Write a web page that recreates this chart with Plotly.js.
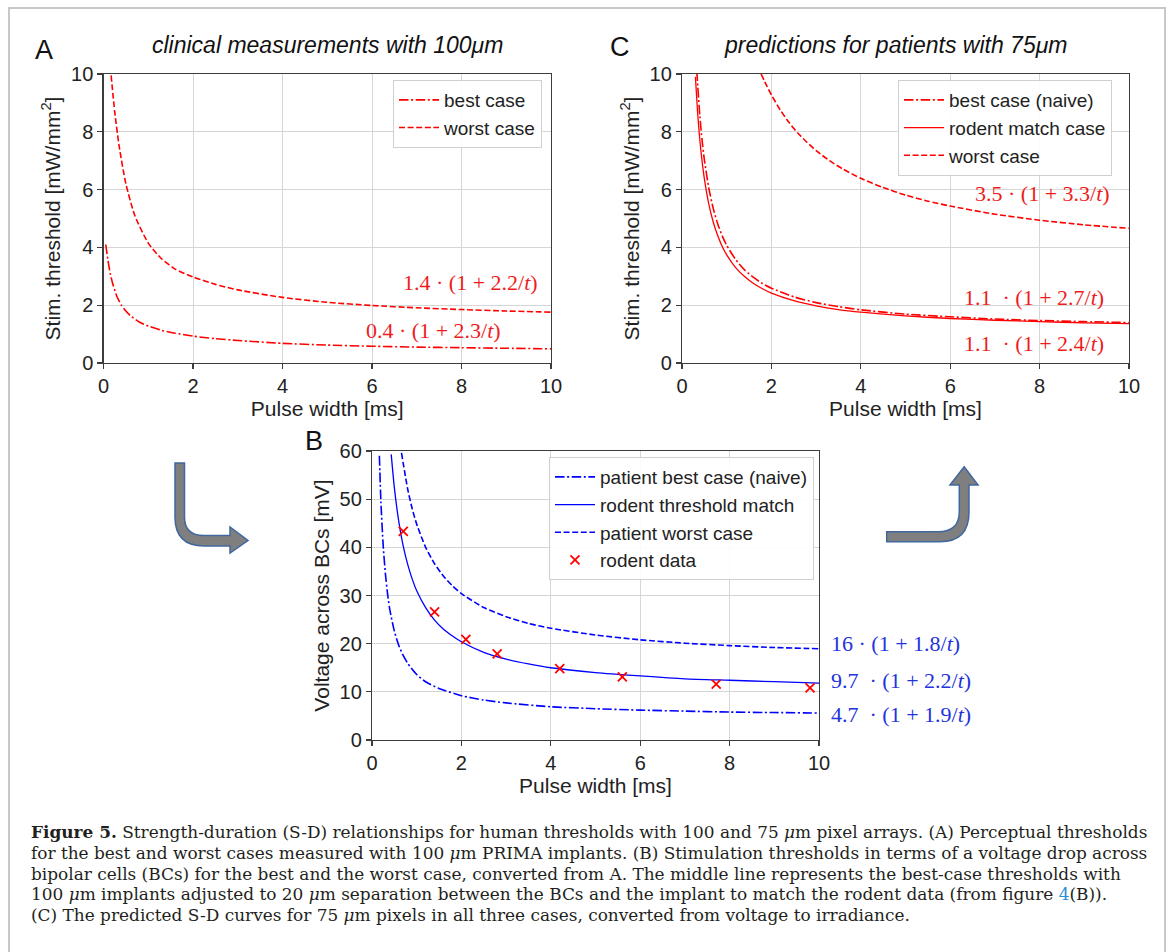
<!DOCTYPE html>
<html>
<head>
<meta charset="utf-8">
<script src="https://cdn.plot.ly/plotly-3.0.1.min.js"></script>
<style>html,body{margin:0;padding:0;background:#fff;}#chart{width:1171px;height:952px;}</style>
</head>
<body>
<div id="chart"></div>
<script>
// ---------- Panel A: clinical measurements with 100 µm (irradiance, mW/mm²) ----------
const aBestT  = [0.05, 0.1, 0.15, 0.2, 0.3, 0.4, 0.5, 0.6, 0.8, 1.0, 1.3, 1.6, 2.0, 2.5, 3.0, 4.0, 5.0, 6.0, 7.0, 8.0, 9.0, 10.0];
const aBestV  = [4.1, 3.55, 3.1, 2.78, 2.3, 2.0, 1.8, 1.64, 1.42, 1.28, 1.13, 1.03, 0.93, 0.84, 0.78, 0.68, 0.62, 0.58, 0.55, 0.53, 0.51, 0.49];
const aWorstT = [0.17, 0.25, 0.35, 0.5, 0.7, 1.0, 1.3, 1.6, 2.0, 2.5, 3.0, 4.0, 5.0, 6.0, 7.0, 8.0, 9.0, 10.0];
const aWorstV = [9.95, 8.7, 7.5, 6.2, 5.1, 4.15, 3.6, 3.25, 2.98, 2.72, 2.53, 2.27, 2.1, 1.99, 1.91, 1.85, 1.8, 1.76];

// ---------- Panel B: voltage across bipolar cells (mV) ----------
const bBestT   = [0.165, 0.2, 0.25, 0.3, 0.35, 0.4, 0.5, 0.6, 0.7, 0.8, 1.0, 1.2, 1.5, 2.0, 2.5, 3.0, 4.0, 5.0, 6.0, 7.0, 8.0, 9.0, 10.0];
const bBestV   = [59.0, 49.3, 40.4, 34.5, 30.2, 27.0, 22.6, 19.6, 17.5, 15.9, 13.6, 12.1, 10.7, 9.2, 8.3, 7.7, 6.9, 6.5, 6.2, 6.0, 5.8, 5.7, 5.6];
const bRodentT = [0.43, 0.5, 0.6, 0.7, 0.8, 0.9, 1.0, 1.2, 1.4, 1.6, 1.8, 2.0, 2.5, 3.0, 3.5, 4.0, 5.0, 6.0, 7.0, 8.0, 9.0, 10.0];
const bRodentV = [59.3, 52.4, 45.3, 40.2, 36.4, 33.4, 31.0, 27.5, 24.9, 23.0, 21.6, 20.4, 18.2, 16.8, 15.8, 15.0, 14.0, 13.3, 12.7, 12.4, 12.1, 11.8];
const bWorstT  = [0.66, 0.8, 0.9, 1.0, 1.2, 1.4, 1.6, 1.8, 2.0, 2.5, 3.0, 3.5, 4.0, 5.0, 6.0, 7.0, 8.0, 9.0, 10.0];
const bWorstV  = [59.6, 52.0, 48.0, 44.8, 40.0, 36.6, 34.0, 32.0, 30.4, 27.5, 25.6, 24.2, 23.2, 21.8, 20.8, 20.1, 19.6, 19.2, 18.95];
const rodentDataT = [0.7, 1.4, 2.1, 2.8, 4.2, 5.6, 7.7, 9.8];
const rodentDataV = [43.3, 26.6, 20.9, 17.9, 14.8, 13.1, 11.6, 10.8];

// ---------- Panel C: predictions for patients with 75 µm (mW/mm²) ----------
const cBestT   = [0.33, 0.4, 0.45, 0.5, 0.6, 0.7, 0.8, 0.9, 1.0, 1.2, 1.4, 1.6, 1.8, 2.0, 2.5, 3.0, 3.5, 4.0, 5.0, 6.0, 7.0, 8.0, 9.0, 10.0];
const cBestV   = [10.1, 8.53, 7.7, 7.04, 6.05, 5.34, 4.81, 4.4, 4.07, 3.58, 3.22, 2.96, 2.75, 2.59, 2.29, 2.09, 1.95, 1.84, 1.69, 1.6, 1.52, 1.47, 1.43, 1.4];
const cRodentT = [0.3, 0.35, 0.4, 0.45, 0.5, 0.6, 0.7, 0.8, 0.9, 1.0, 1.2, 1.4, 1.6, 1.8, 2.0, 2.5, 3.0, 3.5, 4.0, 5.0, 6.0, 7.0, 8.0, 9.0, 10.0];
const cRodentV = [9.9, 8.64, 7.7, 6.97, 6.38, 5.5, 4.87, 4.4, 4.03, 3.74, 3.3, 2.99, 2.75, 2.57, 2.42, 2.16, 1.98, 1.85, 1.76, 1.63, 1.54, 1.48, 1.43, 1.39, 1.36];
const cWorstT  = [1.77, 1.9, 2.0, 2.2, 2.4, 2.6, 2.8, 3.0, 3.3, 3.6, 4.0, 4.5, 5.0, 5.5, 6.0, 7.0, 8.0, 9.0, 10.0];
const cWorstV  = [10.0, 9.58, 9.28, 8.75, 8.31, 7.94, 7.63, 7.35, 7.0, 6.71, 6.39, 6.07, 5.81, 5.6, 5.43, 5.15, 4.94, 4.78, 4.66];

// ---------- Tick labels / text ----------
const xTicks = [0, 2, 4, 6, 8, 10];
const yTicksAC = [0, 2, 4, 6, 8, 10];
const yTicksB = [0, 10, 20, 30, 40, 50, 60];
const eqA = ["1.4 · (1 + 2.2/<i>t</i>)", "0.4 · (1 + 2.3/<i>t</i>)"];
const eqB = ["16 · (1 + 1.8/<i>t</i>)", "9.7  · (1 + 2.2/<i>t</i>)", "4.7  · (1 + 1.9/<i>t</i>)"];
const eqC = ["3.5 · (1 + 3.3/<i>t</i>)", "1.1  · (1 + 2.7/<i>t</i>)", "1.1  · (1 + 2.4/<i>t</i>)"];
const captionLines = [
  "<b>Figure 5.</b> Strength-duration (S-D) relationships for human thresholds with 100 and 75 <i>μ</i>m pixel arrays. (A) Perceptual thresholds",
  "for the best and worst cases measured with 100 <i>μ</i>m PRIMA implants. (B) Stimulation thresholds in terms of a voltage drop across",
  "bipolar cells (BCs) for the best and the worst case, converted from A. The middle line represents the best-case thresholds with",
  "100 <i>μ</i>m implants adjusted to 20 <i>μ</i>m separation between the BCs and the implant to match the rodent data (from figure <span style='color:#2a8fd0'>4</span>(B)).",
  "(C) The predicted S-D curves for 75 <i>μ</i>m pixels in all three cases, converted from voltage to irradiance."
];

// ---------- helpers ----------
const W = 1171, H = 952;
const px = x => x / W;
const py = y => 1 - y / H;
const SANS = "Liberation Sans, Arial, sans-serif";
const SERIF = "Liberation Serif, Times New Roman, serif";
const CAPFONT = "DejaVu Serif, serif";
const RED = "#ff0000", BLUE = "#0000ff";
const DASH = "6px,2.6px", DASHDOT = "9.5px,2.6px,2px,2.6px";

// fit caption font size to the line width seen in the reference
const cv = document.createElement("canvas").getContext("2d");
const plain4 = captionLines[3].replace(/<[^>]+>/g, "");
cv.font = '20px "DejaVu Serif"';
const capSize = Math.min(22, Math.max(13, 20 * 1077 / cv.measureText(plain4).width));

function axisX(domain, anchor) {
  return {
    domain: domain, anchor: anchor, range: [0, 10], tickvals: xTicks, ticktext: xTicks.map(String),
    showline: true, mirror: true, linecolor: "#3c3c3c", linewidth: 1.2,
    ticks: "outside", ticklen: 5, tickwidth: 1.2, tickcolor: "#3c3c3c",
    showgrid: true, gridcolor: "#d6d6d6", gridwidth: 1, zeroline: false,
    tickfont: {family: SANS, size: 20, color: "#222"},
    title: {text: "Pulse width [ms]", font: {family: SANS, size: 21, color: "#222"}, standoff: 0},
    automargin: false, fixedrange: true
  };
}
function axisY(domain, anchor, ticks, range, title) {
  return {
    domain: domain, anchor: anchor, range: range, tickvals: ticks, ticktext: ticks.map(String),
    showline: true, mirror: true, linecolor: "#3c3c3c", linewidth: 1.2,
    ticks: "outside", ticklen: 5, tickwidth: 1.2, tickcolor: "#3c3c3c",
    showgrid: true, gridcolor: "#d6d6d6", gridwidth: 1, zeroline: false,
    tickfont: {family: SANS, size: 20, color: "#222"},
    title: {text: title, font: {family: SANS, size: 21, color: "#222"}, standoff: 4},
    automargin: false, fixedrange: true
  };
}
const SPL = 0.6;
const traces = [
  // A
  {x: aBestT, y: aBestV, xaxis: "x", yaxis: "y", mode: "lines", name: "best case", legend: "legend", legendgroup: "a1",
   line: {color: RED, width: 1.6, dash: DASHDOT, shape: "spline", smoothing: SPL}},
  {x: aWorstT, y: aWorstV, xaxis: "x", yaxis: "y", mode: "lines", name: "worst case", legend: "legend", legendgroup: "a2",
   line: {color: RED, width: 1.6, dash: DASH, shape: "spline", smoothing: SPL}},
  // B
  {x: bBestT, y: bBestV, xaxis: "x2", yaxis: "y2", mode: "lines", name: "patient best case (naive)", legend: "legend2", legendgroup: "b1",
   line: {color: BLUE, width: 1.6, dash: DASHDOT, shape: "spline", smoothing: SPL}},
  {x: bRodentT, y: bRodentV, xaxis: "x2", yaxis: "y2", mode: "lines", name: "rodent threshold match", legend: "legend2", legendgroup: "b2",
   line: {color: BLUE, width: 1.3, shape: "spline", smoothing: SPL}},
  {x: bWorstT, y: bWorstV, xaxis: "x2", yaxis: "y2", mode: "lines", name: "patient worst case", legend: "legend2", legendgroup: "b3",
   line: {color: BLUE, width: 1.6, dash: DASH, shape: "spline", smoothing: SPL}},
  {x: rodentDataT, y: rodentDataV, xaxis: "x2", yaxis: "y2", mode: "markers", name: "rodent data", legend: "legend2", legendgroup: "b4",
   marker: {symbol: "x-thin", size: 9, color: RED, line: {color: RED, width: 1.8}}},
  // C
  {x: cBestT, y: cBestV, xaxis: "x3", yaxis: "y3", mode: "lines", name: "best case (naive)", legend: "legend3", legendgroup: "c1",
   line: {color: RED, width: 1.6, dash: DASHDOT, shape: "spline", smoothing: SPL}},
  {x: cRodentT, y: cRodentV, xaxis: "x3", yaxis: "y3", mode: "lines", name: "rodent match case", legend: "legend3", legendgroup: "c2",
   line: {color: RED, width: 1.3, shape: "spline", smoothing: SPL}},
  {x: cWorstT, y: cWorstV, xaxis: "x3", yaxis: "y3", mode: "lines", name: "worst case", legend: "legend3", legendgroup: "c3",
   line: {color: RED, width: 1.6, dash: DASH, shape: "spline", smoothing: SPL}}
];

function legendAt(right, top) {
  return {
    x: px(right), y: py(top), xanchor: "right", yanchor: "top", xref: "paper", yref: "paper",
    bgcolor: "rgba(255,255,255,0.9)", bordercolor: "#d0d0d0", borderwidth: 1,
    font: {family: SANS, size: 19, color: "#222"}, traceorder: "grouped", tracegroupgap: 0,
    itemclick: false, itemdoubleclick: false, itemwidth: 40
  };
}

const ann = [];
function addText(text, x, y, opts) {
  ann.push(Object.assign({text: text, x: px(x), y: py(y), xref: "paper", yref: "paper", showarrow: false,
    xanchor: "center", yanchor: "middle"}, opts));
}
// panel letters and titles
addText("A", 44, 50, {font: {family: SANS, size: 27, color: "#111"}});
addText("C", 620, 47, {font: {family: SANS, size: 27, color: "#111"}});
addText("B", 314, 441, {font: {family: SANS, size: 27, color: "#111"}});
addText("<i>clinical measurements with 100μm</i>", 327, 45, {font: {family: SANS, size: 23, color: "#111"}});
addText("<i>predictions for patients with 75μm</i>", 895, 45, {font: {family: SANS, size: 23, color: "#111"}});
// equations
const eqFontR = {family: SERIF, size: 22, color: "#ee1c1c"};
const eqFontB = {family: SERIF, size: 22, color: "#2233dd"};
addText(eqA[0], 540, 282, {xanchor: "right", font: eqFontR});
addText(eqA[1], 503, 330, {xanchor: "right", font: eqFontR});
addText(eqC[0], 1112, 194, {xanchor: "right", font: eqFontR});
addText(eqC[1], 1106, 297, {xanchor: "right", font: eqFontR});
addText(eqC[2], 1106, 343, {xanchor: "right", font: eqFontR});
addText(eqB[0], 829, 643, {xanchor: "left", font: eqFontB});
addText(eqB[1], 829, 680, {xanchor: "left", font: eqFontB});
addText(eqB[2], 829, 714, {xanchor: "left", font: eqFontB});
// caption
const capY = [832, 853, 874, 894, 915];
captionLines.forEach((t, i) => addText(t, 29, capY[i], {xanchor: "left", font: {family: CAPFONT, size: capSize, color: "#231f20"}}));

function P(x, y) { return px(x).toFixed(5) + "," + py(y).toFixed(5); }
const leftArrow = "M" + P(175, 463) + " L" + P(175, 517) + " Q" + P(175, 546) + " " + P(204, 546) + " L" + P(230, 546) +
  " L" + P(230, 553) + " L" + P(248, 540.5) + " L" + P(230, 527) + " L" + P(230, 535.5) + " L" + P(204, 535.5) +
  " Q" + P(184.5, 535.5) + " " + P(184.5, 517) + " L" + P(184.5, 463) + " Z";
const rightArrow = "M" + P(886.7, 531.7) + " L" + P(938, 531.7) + " Q" + P(959.3, 531.7) + " " + P(959.3, 512) +
  " L" + P(959.3, 485) + " L" + P(950, 485) + " L" + P(964.2, 466.7) + " L" + P(978, 485) + " L" + P(969, 485) +
  " L" + P(969, 512) + " Q" + P(969, 541.7) + " " + P(940, 541.7) + " L" + P(886.7, 541.7) + " Z";

const layout = {
  width: W, height: H, margin: {l: 0, r: 0, t: 0, b: 0},
  paper_bgcolor: "#ffffff", plot_bgcolor: "#ffffff", showlegend: true,
  font: {family: SANS, color: "#222"},
  xaxis: axisX([px(103.5), px(551)], "y"),
  yaxis: axisY([py(363), py(74)], "x", yTicksAC, [0, 10], "Stim. threshold [mW/mm<sup>2</sup>]"),
  xaxis2: axisX([px(372), px(819)], "y2"),
  yaxis2: axisY([py(740), py(451)], "x2", yTicksB, [0, 60], "Voltage across BCs [mV]"),
  xaxis3: axisX([px(682), px(1129)], "y3"),
  yaxis3: axisY([py(363), py(74)], "x3", yTicksAC, [0, 10], "Stim. threshold [mW/mm<sup>2</sup>]"),
  legend: legendAt(542, 80),
  legend2: legendAt(814, 457),
  legend3: legendAt(1112, 80),
  annotations: ann,
  shapes: [
    {type: "rect", xref: "paper", yref: "paper", x0: px(9), x1: px(1165), y0: -0.02, y1: py(8),
     line: {color: "#c8c8c8", width: 2}, fillcolor: "rgba(0,0,0,0)", layer: "below"},
    {type: "path", xref: "paper", yref: "paper", path: leftArrow, fillcolor: "#7f7f7f", line: {color: "#41689e", width: 1.5}},
    {type: "path", xref: "paper", yref: "paper", path: rightArrow, fillcolor: "#7f7f7f", line: {color: "#41689e", width: 1.5}}
  ]
};

Plotly.newPlot("chart", traces, layout, {staticPlot: true, displayModeBar: false});
</script>
</body>
</html>
